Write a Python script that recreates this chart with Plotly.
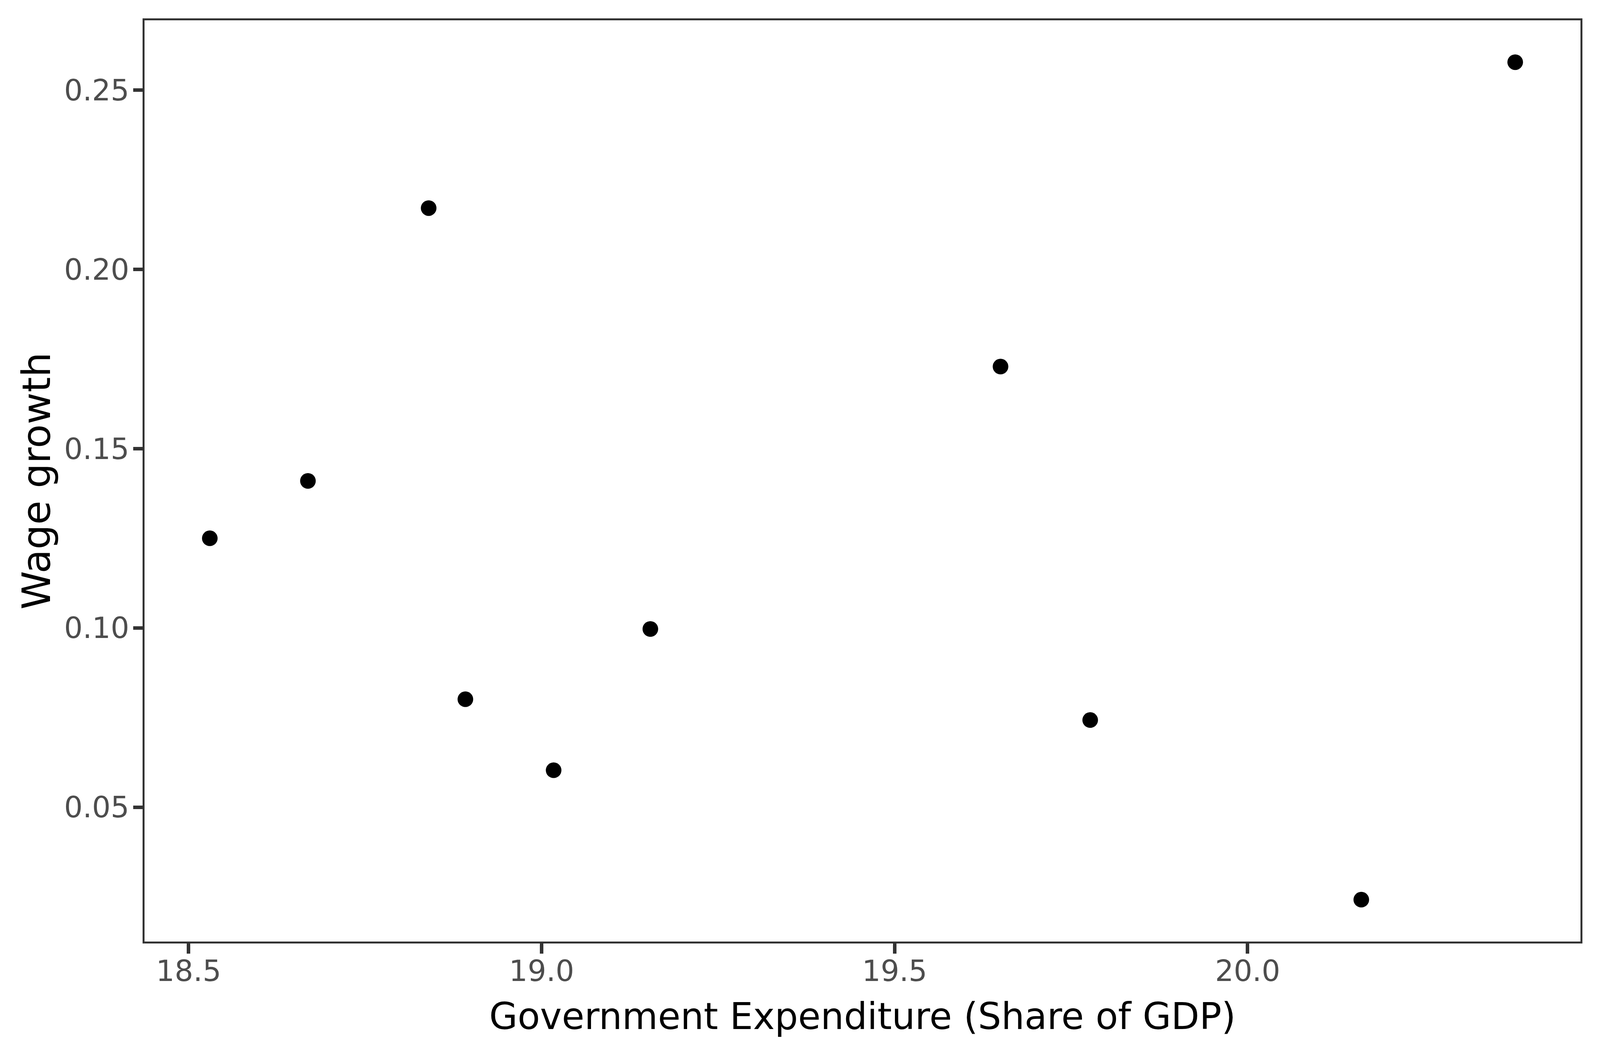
import plotly.graph_objects as go

# Government expenditure (share of GDP) vs wage growth
gov_expenditure = [18.530, 18.669, 18.840, 18.892, 19.017, 19.154, 19.650, 19.777, 20.161, 20.379]
wage_growth = [0.1250, 0.1410, 0.2171, 0.0801, 0.0603, 0.0997, 0.1729, 0.0743, 0.0242, 0.2578]

x_ticks = [18.5, 19.0, 19.5, 20.0]
x_tick_text = ["18.5", "19.0", "19.5", "20.0"]
y_ticks = [0.05, 0.10, 0.15, 0.20, 0.25]
y_tick_text = ["0.05", "0.10", "0.15", "0.20", "0.25"]

# the page is photographed 4096 px wide, so horizontal sizes are scaled down
PAGE_W, PAGE_H = 4096, 2703


def _padded(values, frac=0.05):
    lo, hi = min(values), max(values)
    pad = (hi - lo) * frac
    return [lo - pad, hi + pad]


fig = go.Figure()
fig.add_trace(go.Scatter(
    x=gov_expenditure, y=wage_growth, mode="markers",
    marker=dict(color="black", size=40, line=dict(width=0)),
    showlegend=False,
))

axis_common = dict(
    showgrid=False, zeroline=False,
    showline=True, mirror=True, linecolor="#333333", linewidth=5,
    ticks="outside", tickwidth=9, tickcolor="#333333",
    tickfont=dict(family="DejaVu Sans", size=75, color="#4D4D4D"),
)

fig.update_xaxes(
    range=_padded(gov_expenditure), tickvals=x_ticks, ticktext=x_tick_text,
    ticklen=26, ticklabelstandoff=-20,
    title=dict(text="Government Expenditure (Share of GDP)",
               font=dict(family="DejaVu Sans", size=94, color="black"),
               standoff=42),
    **axis_common,
)
fig.update_yaxes(
    range=_padded(wage_growth), tickvals=y_ticks, ticktext=y_tick_text,
    ticklen=24, ticklabelstandoff=-5,
    title=dict(text="Wage growth",
               font=dict(family="DejaVu Sans", size=100, color="black"),
               standoff=4),
    **axis_common,
)

fig.update_layout(
    width=PAGE_W, height=PAGE_H,
    margin=dict(l=370, r=50, t=52, b=293),
    paper_bgcolor="white", plot_bgcolor="white",
    font=dict(family="DejaVu Sans"),
)

fig.write_html(
    "out.html",
    config=dict(displayModeBar=False),
    post_script="document.body.style.margin='0';document.body.style.overflow='hidden';",
)
